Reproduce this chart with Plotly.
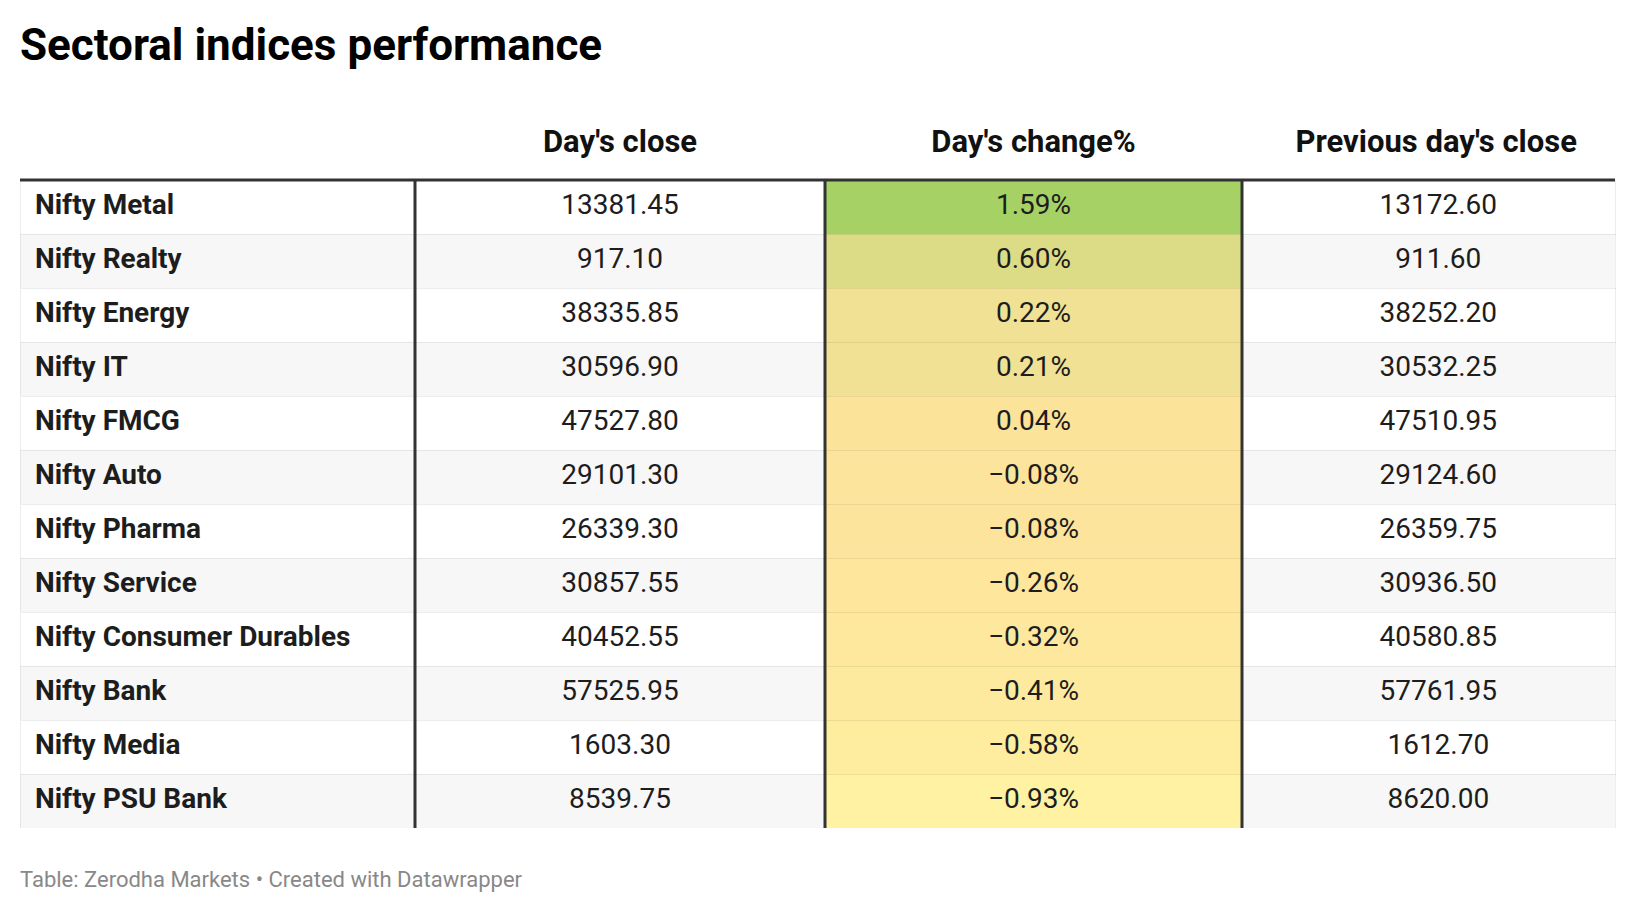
import plotly.graph_objects as go
from plotly.colors import sample_colorscale

# data
sectors = ["Nifty Metal", "Nifty Realty", "Nifty Energy", "Nifty IT", "Nifty FMCG",
           "Nifty Auto", "Nifty Pharma", "Nifty Service", "Nifty Consumer Durables",
           "Nifty Bank", "Nifty Media", "Nifty PSU Bank"]
day_close = [13381.45, 917.10, 38335.85, 30596.90, 47527.80, 29101.30,
             26339.30, 30857.55, 40452.55, 57525.95, 1603.30, 8539.75]
day_change = [1.59, 0.60, 0.22, 0.21, 0.04, -0.08, -0.08, -0.26, -0.32, -0.41, -0.58, -0.93]
prev_close = [13172.60, 911.60, 38252.20, 30532.25, 47510.95, 29124.60,
              26359.75, 30936.50, 40580.85, 57761.95, 1612.70, 8620.00]
headers = ["", "Day's close", "Day's change%", "Previous day's close"]

W, H = 1636, 914
FONT = "Roboto"
TXT = "#1d1d1d"
DARK = "#333333"

# table box in pixels (left, right, top, header bottom, bottom)
X0, X1 = 12, 1607
Y_TOP, Y_HEAD, Y_BOT = 107, 172, 820
COL_EDGES = [407, 817, 1234]

# change colour scale (yellow -> green)
lo, hi = min(day_change), max(day_change)
scale = [[0, "#fff2a2"], [0.37, "#fde39b"], [1, "#a5d165"]]
change_fill = sample_colorscale(scale, [(v - lo) / (hi - lo) for v in day_change])

stripe = ["#ffffff" if i % 2 == 0 else "#f7f7f7" for i in range(len(sectors))]

NB = "\u00a0"

def fmt(v, pct=False, pre=""):
    s = f"{v:.2f}" + ("%" if pct else "")
    return "<span>" + pre + s.replace("-", "\u2212") + "</span>"

edges = [X0] + COL_EDGES + [X1]
fig = go.Figure(go.Table(
    domain=dict(x=[X0 / W, X1 / W], y=[1 - Y_BOT / H, 1 - Y_TOP / H]),
    columnwidth=[edges[i + 1] - edges[i] for i in range(4)],
    header=dict(
        values=["<b>%s</b>" % h for h in headers[:3]] + [NB * 2 + "<b>%s</b>" % headers[3]],
        align=["left", "center", "center", "center"],
        height=Y_HEAD - Y_TOP,
        fill=dict(color="white"),
        line=dict(color="white", width=0),
        font=dict(family=FONT, size=31, color="#111111"),
    ),
    cells=dict(
        values=[[NB + "<b>%s</b>" % s for s in sectors],
                [fmt(v) for v in day_close],
                [fmt(v, True) for v in day_change],
                [fmt(v, pre=NB * 2 + "\u2009") for v in prev_close]],
        align=["left", "center", "center", "center"],
        height=(Y_BOT - Y_HEAD) / len(sectors),
        fill=dict(color=[stripe, stripe, change_fill, stripe]),
        line=dict(color="rgba(0,0,0,0.07)", width=1),
        font=dict(family=FONT, size=28, color=TXT),
    ),
))

# header rule and column dividers
shapes = [dict(type="line", xref="paper", yref="paper",
               x0=X0 / W, x1=X1 / W, y0=1 - Y_HEAD / H, y1=1 - Y_HEAD / H,
               line=dict(color=DARK, width=3))]
for xv in COL_EDGES:
    shapes.append(dict(type="line", xref="paper", yref="paper",
                       x0=xv / W, x1=xv / W, y0=1 - Y_HEAD / H, y1=1 - Y_BOT / H,
                       line=dict(color=DARK, width=3)))

fig.update_layout(
    width=W, height=H,
    margin=dict(l=0, r=0, t=0, b=0),
    paper_bgcolor="white",
    shapes=shapes,
    annotations=[
        dict(text="<b>Sectoral indices performance</b>", x=10 / W, y=1 - 37 / H,
             xref="paper", yref="paper", xanchor="left", yanchor="middle",
             showarrow=False, font=dict(family=FONT, size=44, color="#000000")),
        dict(text="Table: Zerodha Markets \u2022 Created with Datawrapper",
             x=10 / W, y=1 - 871 / H, xref="paper", yref="paper",
             xanchor="left", yanchor="middle", showarrow=False,
             font=dict(family=FONT, size=22, color="#888888")),
    ],
)

fig.write_html("out.html")
